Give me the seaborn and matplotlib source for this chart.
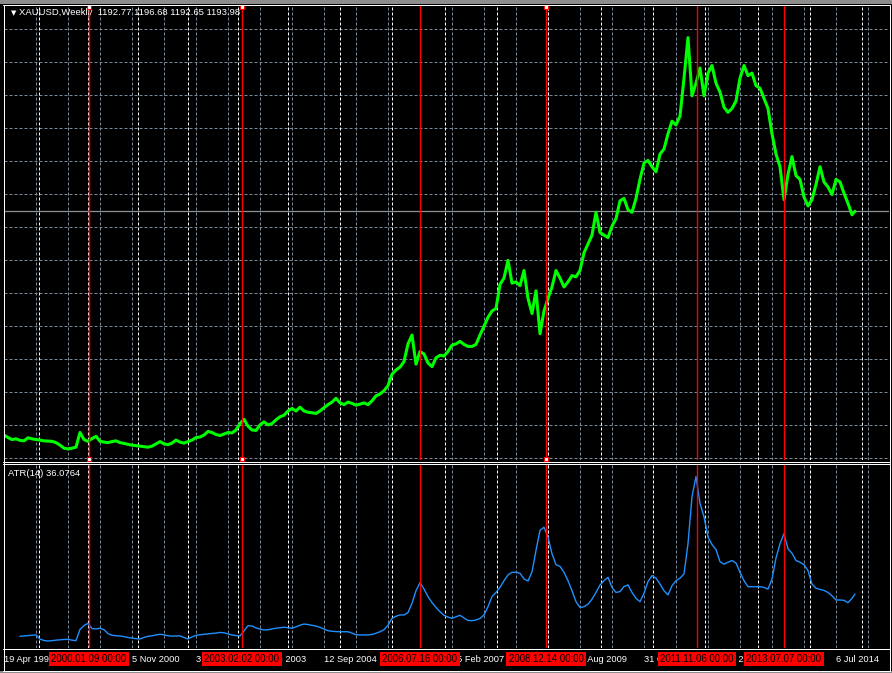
import numpy as np
import pandas as pd
import seaborn as sns
import matplotlib.pyplot as plt
from matplotlib.patches import Rectangle

# MetaTrader-like dark style
sns.set_style("dark", {"axes.facecolor": "black", "figure.facecolor": "black", "axes.grid": False})
plt.rcParams["font.family"] = ["Liberation Sans", "DejaVu Sans"]

# ---- data (bar index = weekly bar number from the first bar) ----
symbol = "XAUUSD,Weekly"
last_ohlc = [1192.77, 1196.68, 1192.65, 1193.98]
atr_period = 14
atr_last = 36.0764

close = [
    310, 300, 292, 295, 289, 287, 299, 295, 292, 290,
    287, 286, 285, 280, 270, 258, 255, 258, 262, 320,
    292, 285, 296, 305, 285, 282, 280, 284, 287, 280,
    277, 273, 270, 268, 266, 264, 262, 266, 275, 284,
    275, 272, 278, 290, 282, 278, 284, 290, 300, 302,
    310, 324, 320, 312, 308, 314, 320, 318, 330, 355,
    372, 345, 330, 328, 350, 362, 350, 355, 370, 382,
    388, 405, 415, 405, 420, 405, 400, 398, 395, 405,
    418, 430, 440, 455, 437, 430, 440, 435, 428, 432,
    437, 430, 445, 465, 472, 485, 505, 550, 567, 578,
    600, 670, 705, 590, 640, 630, 595, 580, 615, 625,
    622, 640, 665, 670, 680, 668, 660, 660, 668, 705,
    740, 775, 800, 810, 905, 930, 1000, 910, 915, 900,
    960, 850, 790, 880, 710, 800, 850, 895, 960, 930,
    895, 915, 940, 935, 960, 1030, 1065, 1100, 1190, 1110,
    1100, 1090, 1135, 1165, 1235, 1245, 1200, 1190, 1245, 1320,
    1385, 1395, 1370, 1350, 1420, 1440, 1500, 1550, 1535, 1570,
    1720, 1880, 1650, 1700, 1760, 1650, 1740, 1770, 1700, 1665,
    1605, 1585, 1600, 1630, 1720, 1770, 1730, 1740, 1690, 1680,
    1640, 1600, 1500, 1420, 1370, 1240, 1340, 1410, 1335, 1320,
    1250, 1215, 1240, 1300, 1370, 1310, 1290, 1260, 1320, 1310,
    1265, 1225, 1180, 1193.98,
]
close_bars = list(range(0, 849, 4)) + [851]

atr = [
    10.9, 11.1, 11.3, 11.5, 11.7, 9.2, 8.4, 8.1, 8.3, 8.6,
    8.8, 9.0, 9.1, 8.6, 8.3, 15.0, 17.3, 18.6, 15.5, 15.3,
    15.7, 14.8, 12.5, 11.5, 11.2, 11.1, 10.7, 10.2, 9.8, 9.5,
    9.3, 10.2, 10.9, 11.2, 11.7, 12.1, 11.8, 11.2, 11.0, 11.1,
    11.1, 10.2, 9.3, 10.5, 11.5, 11.8, 12.1, 12.3, 12.6, 12.8,
    13.2, 13.0, 12.3, 11.7, 11.3, 11.1, 14.2, 17.2, 17.0, 15.9,
    15.2, 14.7, 14.8, 15.3, 15.7, 16.0, 16.3, 16.0, 15.7, 16.5,
    17.5, 18.2, 17.9, 17.4, 17.0, 16.2, 15.2, 14.2, 13.9, 13.7,
    13.6, 13.6, 13.6, 12.8, 11.8, 11.7, 11.7, 11.7, 12.0, 12.7,
    13.6, 14.8, 17.5, 21.6, 22.8, 23.6, 23.6, 25.0, 30.5, 38.0,
    42.8, 39.0, 34.5, 31.0, 28.0, 25.5, 23.4, 22.3, 21.6, 22.5,
    23.4, 21.8, 20.3, 20.2, 20.6, 21.5, 23.6, 28.5, 34.5, 37.0,
    40.0, 44.0, 47.4, 49.0, 49.0, 48.4, 45.0, 43.8, 49.3, 62.0,
    74.0, 75.8, 70.0, 60.0, 53.5, 52.5, 49.0, 44.0, 38.0, 31.5,
    28.0, 28.5, 30.0, 33.0, 37.0, 41.4, 44.0, 46.0, 40.0, 37.0,
    37.5, 40.5, 41.5, 37.0, 33.5, 31.5, 36.5, 43.5, 47.0, 45.5,
    42.0, 38.0, 35.5, 41.0, 44.0, 45.5, 48.0, 66.0, 94.0, 106.0,
    90.0, 82.0, 70.0, 65.5, 62.5, 55.3, 53.8, 55.0, 56.0, 54.5,
    49.0, 44.0, 40.4, 40.4, 40.4, 40.4, 40.0, 39.0, 45.0, 57.5,
    66.0, 72.0, 63.0, 60.3, 56.0, 55.0, 53.5, 50.0, 42.0, 39.5,
    38.8, 38.2, 37.0, 35.0, 32.5, 32.5, 32.3, 30.9, 33.5, 36.0764,
]
atr_bars = list(range(16, 849, 4)) + [851]

# time scale labels, one every 64 bars
time_labels = ["19 Apr 1998", "25 Jul 1999", "5 Nov 2000", "31 Mar 2002", "1 Jun 2003",
               "12 Sep 2004", "4 Dec 2005", "25 Feb 2007", "18 May 2008", "9 Aug 2009",
               "31 Oct 2010", "22 Jan 2012", "14 Apr 2013", "6 Jul 2014"]
label_bars = [0, 64, 128, 192, 256, 320, 384, 448, 512, 576, 640, 704, 768, 832]

# yearly period separators
year_bars = [35, 84, 134, 184, 234, 284, 336, 388, 441, 493, 544, 597, 649, 701, 754, 806, 858]

# vertical line objects
vline_dates = ["2000.01.09 00:00", "2003.02.02 00:00", "2006.07.16 00:00",
               "2008.12.14 00:00", "2011.11.06 00:00", "2013.07.07 00:00"]
vline_bars = [85, 238, 416, 542, 693, 780]
vline_selected = [True, True, False, True, False, False]

price_df = pd.DataFrame({"bar": close_bars, "close": close})
atr_df = pd.DataFrame({"bar": atr_bars, "atr": atr})

# ---- layout in pixels ----
W, H = 892, 673
fig = plt.figure(figsize=(W / 100, H / 100), dpi=100)
fig.patch.set_facecolor("black")


def px_box(x0, y0, x1, y1):
    return [x0 / W, 1 - y1 / H, (x1 - x0) / W, (y1 - y0) / H]


ax_p = fig.add_axes(px_box(4, 5, 889, 460))
ax_a = fig.add_axes(px_box(4, 464, 889, 648))

GRID = "#778899"
DASH = (0, (3, 2))
PX = 0.72  # one pixel in points

for ax in (ax_p, ax_a):
    ax.set_facecolor("black")
    ax.set_xlim(0, 885)
    ax.set_xticks([])
    ax.set_yticks([])
    for s in ax.spines.values():
        s.set_visible(False)
    for b in range(0, 885, 32):
        ax.axvline(b, color=GRID, lw=PX, ls=DASH, zorder=0)
    for b in year_bars:
        ax.axvline(b, color="white", lw=PX, ls=DASH, zorder=1)
    for b in vline_bars:
        ax.axvline(b, color="red", lw=1.0, zorder=4)

ax_p.set_ylim(211.3, 2009.0)
ax_a.set_ylim(3.93, 113.45)

for p in np.arange(1914.2, 211.3, -130.4):
    ax_p.axhline(p, color=GRID, lw=PX, ls=DASH, zorder=0)

# current bid line
ax_p.axhline(last_ohlc[3], color="#8C9096", lw=0.9, zorder=2)

sns.lineplot(data=price_df, x="bar", y="close", ax=ax_p, color="#00FF00",
             linewidth=2.2, estimator=None, zorder=3)
sns.lineplot(data=atr_df, x="bar", y="atr", ax=ax_a, color="#1E90FF",
             linewidth=1.0, estimator=None, zorder=3)
for ax in (ax_p, ax_a):
    ax.set_xlabel("")
    ax.set_ylabel("")

# selection handles on selected vertical lines
for b, sel in zip(vline_bars, vline_selected):
    if sel:
        ax_p.plot([b, b], [2003.0, 217.0], ls="none", marker="s", ms=3.2,
                  mfc="white", mec="red", mew=0.8, clip_on=False, zorder=6)

# titles
ax_p.text(7 / 885, 1 - 8 / 455, "▼", transform=ax_p.transAxes, color="white",
          fontsize=5, va="center", ha="left", family="DejaVu Sans")
ax_p.text(15 / 885, 1 - 7.5 / 455,
          f"{symbol}  " + " ".join(f"{v:.2f}" for v in last_ohlc),
          transform=ax_p.transAxes, color="white", fontsize=6.8, va="center", ha="left")
ax_a.text(4 / 885, 1 - 9 / 184, f"ATR({atr_period}) {atr_last:.4f}",
          transform=ax_a.transAxes, color="white", fontsize=6.8, va="center", ha="left")

# time scale
label_y = -11 / 184
for b, t in zip(label_bars, time_labels):
    ax_a.text(b + 0.5, label_y, t, transform=ax_a.get_xaxis_transform(), color="white",
              fontsize=6.7, va="center", ha="left", clip_on=False, zorder=5)
for b, t in zip(vline_bars, vline_dates):
    ax_a.text(b, label_y, t, transform=ax_a.get_xaxis_transform(), color="black",
              fontsize=6.9, va="center", ha="center", clip_on=False, zorder=6,
              bbox=dict(boxstyle="square,pad=0.25", fc="red", ec="none"))

# window frame
ov = fig.add_axes([0, 0, 1, 1], zorder=10)
ov.set_xlim(0, W)
ov.set_ylim(H, 0)
ov.axis("off")
ov.patch.set_alpha(0)
ov.add_patch(Rectangle((0, 0), W, 3.5, color="#8C8C8C", lw=0))
ov.add_patch(Rectangle((0, 671), W, 2, color="#8C8C8C", lw=0))
for y in (4.5, 461.5, 463.5, 648.5, 670.5):
    ov.plot([3, 889.5], [y, y], color="white", lw=PX)
for x in (3.5, 889.5):
    ov.plot([x, x], [4.5, 670.5], color="white", lw=PX)

fig.savefig("out.png", dpi=100, facecolor="black")
